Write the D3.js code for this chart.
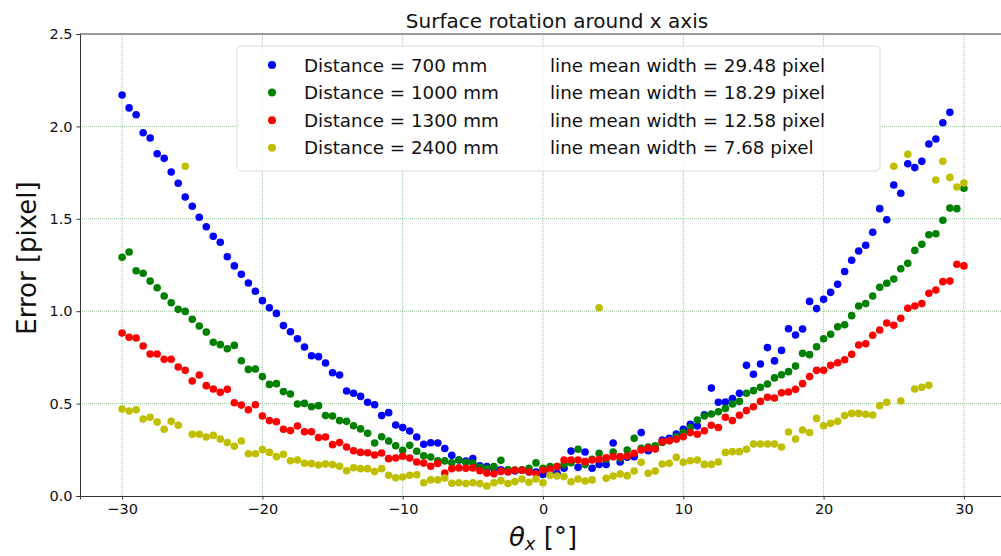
<!DOCTYPE html>
<html>
<head>
<meta charset="utf-8">
<script src="https://cdn.jsdelivr.net/npm/d3@7"></script>
<style>
  body { margin: 0; background: #fff; }
  svg { display: block; font-family: "DejaVu Sans", sans-serif; }
</style>
</head>
<body>
<svg id="chart"></svg>
<script>
// theta_x from -30 to 30 in 0.5 degree steps
const thetaX = d3.range(121).map(i => -30 + i * 0.5);

const err700 = [
  2.17, 2.10, 2.063, 1.966, 1.937, 1.852, 1.827, 1.753, 1.692, 1.618,
  1.568, 1.508, 1.457, 1.405, 1.373, 1.295, 1.245, 1.2, 1.153, 1.108,
  1.057, 1.019, 0.988, 0.922, 0.889, 0.851, 0.806, 0.759, 0.754, 0.72,
  0.667, 0.655, 0.568, 0.556, 0.539, 0.507, 0.494, 0.435, 0.451, 0.384,
  0.37, 0.352, 0.319, 0.28, 0.288, 0.287, 0.257, 0.22, 0.195, 0.189,
  0.203, 0.163, 0.16, 0.15, 0.142, 0.14, 0.135, 0.14, 0.13, 0.13,
  0.117, 0.135, 0.123, 0.15, 0.243, 0.155, 0.238, 0.15, 0.171, 0.171,
  0.287, 0.184, 0.21, 0.213, 0.343, 0.245, 0.26, 0.303, 0.312, 0.335,
  0.361, 0.388, 0.379, 0.44, 0.584, 0.507, 0.509, 0.527, 0.556, 0.707,
  0.659, 0.714, 0.803, 0.731, 0.788, 0.905, 0.871, 0.904, 1.053, 1.014,
  1.064, 1.102, 1.146, 1.215, 1.276, 1.326, 1.357, 1.427, 1.555, 1.495,
  1.683, 1.638, 1.798, 1.777, 1.811, 1.905, 1.932, 2.02, 2.076, null,
  null
];

const err1000 = [
  1.292, 1.32, 1.219, 1.205, 1.163, 1.127, 1.082, 1.046, 1.01, 0.999,
  0.956, 0.92, 0.887, 0.832, 0.819, 0.797, 0.815, 0.732, 0.685, 0.687,
  0.646, 0.604, 0.608, 0.565, 0.552, 0.498, 0.501, 0.483, 0.489, 0.435,
  0.433, 0.408, 0.404, 0.38, 0.363, 0.339, 0.287, 0.321, 0.298, 0.272,
  0.247, 0.274, 0.242, 0.218, 0.211, 0.19, 0.19, 0.18, 0.195, 0.182,
  0.178, 0.155, 0.15, 0.16, 0.193, 0.142, 0.14, 0.14, 0.15, 0.179,
  0.15, 0.159, 0.16, 0.17, 0.18, 0.253, 0.17, 0.198, 0.231, 0.2,
  0.238, 0.205, 0.249, 0.312, 0.258, 0.265, 0.271, 0.29, 0.3, 0.32,
  0.343, 0.37, 0.411, 0.433, 0.444, 0.456, 0.474, 0.498, 0.512, 0.556,
  0.57, 0.588, 0.606, 0.639, 0.656, 0.673, 0.703, 0.772, 0.765, 0.808,
  0.851, 0.875, 0.916, 0.927, 0.976, 1.028, 1.041, 1.082, 1.129, 1.151,
  1.174, 1.23, 1.259, 1.329, 1.362, 1.414, 1.419, 1.492, 1.558, 1.555,
  1.665
];

const err1300 = [
  0.882, 0.859, 0.855, 0.812, 0.768, 0.768, 0.74, 0.74, 0.698, 0.68,
  0.622, 0.655, 0.597, 0.579, 0.561, 0.577, 0.505, 0.492, 0.467, 0.494,
  0.433, 0.408, 0.402, 0.361, 0.354, 0.379, 0.348, 0.348, 0.316, 0.319,
  0.278, 0.289, 0.265, 0.245, 0.236, 0.234, 0.222, 0.233, 0.202, 0.206,
  0.215, 0.206, 0.184, 0.178, 0.161, 0.176, 0.124, 0.148, 0.152, 0.15,
  0.152, 0.137, 0.124, 0.12, 0.133, 0.13, 0.139, 0.139, 0.131, 0.12,
  0.141, 0.144, 0.159, 0.195, 0.195, 0.195, 0.186, 0.195, 0.198, 0.207,
  0.213, 0.213, 0.216, 0.231, 0.249, 0.258, 0.254, 0.294, 0.299, 0.307,
  0.321, 0.343, 0.334, 0.353, 0.383, 0.371, 0.426, 0.408, 0.437, 0.462,
  0.483, 0.512, 0.534, 0.53, 0.559, 0.563, 0.577, 0.608, 0.646, 0.68,
  0.68, 0.707, 0.721, 0.737, 0.767, 0.817, 0.824, 0.87, 0.898, 0.936,
  0.924, 0.962, 1.016, 1.028, 1.041, 1.097, 1.115, 1.16, 1.163, 1.254,
  1.245
];

const err2400 = [
  0.471, 0.46, 0.467, 0.417, 0.426, 0.4, 0.361, 0.404, 0.383, 1.784,
  0.334, 0.334, 0.319, 0.328, 0.308, 0.289, 0.269, 0.298, 0.229, 0.229,
  0.251, 0.236, 0.213, 0.225, 0.191, 0.195, 0.177, 0.175, 0.168, 0.173,
  0.17, 0.161, 0.137, 0.153, 0.148, 0.148, 0.132, 0.148, 0.112, 0.099,
  0.103, 0.112, 0.115, 0.072, 0.087, 0.087, 0.097, 0.069, 0.072, 0.067,
  0.072, 0.067, 0.054, 0.072, 0.083, 0.067, 0.078, 0.092, 0.074, 0.092,
  0.072, 0.112, 0.108, 0.105, 0.077, 0.092, 0.081, 0.087, 1.019, 0.096,
  0.108, 0.119, 0.11, 0.135, 0.182, 0.123, 0.135, 0.173, 0.177, 0.209,
  0.182, 0.191, 0.195, 0.171, 0.171, 0.184, 0.236, 0.24, 0.24, 0.253,
  0.281, 0.281, 0.281, 0.281, 0.265, 0.346, 0.308, 0.357, 0.343, 0.42,
  0.38, 0.393, 0.404, 0.435, 0.447, 0.447, 0.442, 0.438, 0.489, 0.507,
  1.784, 0.514, 1.849, 0.579, 0.588, 0.599, 1.71, 1.811, 1.724, 1.672,
  1.694
];

const distLabels = ['Distance = 700 mm', 'Distance = 1000 mm', 'Distance = 1300 mm', 'Distance = 2400 mm'];
const widthLabels = ['line mean width = 29.48 pixel', 'line mean width = 18.29 pixel',
                     'line mean width = 12.58 pixel', 'line mean width = 7.68 pixel'];
const colors = ['#0000ff', '#008000', '#ff0000', '#bfbf00'];
const xTicks = [-30, -20, -10, 0, 10, 20, 30];
const yTicks = [0, 0.5, 1.0, 1.5, 2.0, 2.5];

const width = 1001, height = 556;
const margin = {top: 34, right: -5, bottom: 60, left: 80};

const svg = d3.select('#chart').attr('width', width).attr('height', height);

const x = d3.scaleLinear().domain([-33, 33]).range([margin.left, width - margin.right]);
const y = d3.scaleLinear().domain([0, 2.5]).range([height - margin.bottom, margin.top]);

// grid
const grid = svg.append('g')
    .attr('stroke', '#008000')
    .attr('stroke-width', 0.6)
    .attr('stroke-dasharray', '1,1')
    .attr('opacity', 0.7);
grid.selectAll('.gx').data(xTicks).enter().append('line')
    .attr('x1', d => x(d)).attr('x2', d => x(d))
    .attr('y1', y(0)).attr('y2', y(2.5));
grid.selectAll('.gy').data(yTicks.slice(1, -1)).enter().append('line')
    .attr('x1', x(-33)).attr('x2', x(33))
    .attr('y1', d => y(d)).attr('y2', d => y(d));

// points
const series = [err700, err1000, err1300, err2400];
series.forEach((vals, si) => {
  const pts = thetaX.map((t, i) => ({t, v: vals[i]})).filter(d => d.v != null);
  svg.append('g').selectAll('circle').data(pts).enter().append('circle')
      .attr('cx', d => x(d.t))
      .attr('cy', d => y(d.v))
      .attr('r', 3.8)
      .attr('fill', colors[si]);
});

// axes
const xAxis = d3.axisBottom(x).tickValues(xTicks).tickSize(3.5).tickPadding(4)
    .tickFormat(d => d < 0 ? '\u2212' + Math.abs(d) : d);
const yAxis = d3.axisLeft(y).tickValues(yTicks).tickSize(3.5).tickPadding(4)
    .tickFormat(d3.format('.1f'));

const gx = svg.append('g').attr('transform', `translate(0,${y(0)})`).call(xAxis);
const gy = svg.append('g').attr('transform', `translate(${x(-33)},0)`).call(yAxis);
[gx, gy].forEach(g => {
  g.select('.domain').attr('stroke', '#333');
  g.selectAll('.tick line').attr('stroke', '#333');
  g.selectAll('.tick text').attr('font-size', 14.5).attr('fill', '#111')
      .attr('font-family', '"DejaVu Sans", sans-serif');
});
// top spine
svg.append('line')
    .attr('x1', x(-33)).attr('x2', x(33))
    .attr('y1', y(2.5)).attr('y2', y(2.5))
    .attr('stroke', '#333');

// title and labels
svg.append('text')
    .attr('x', 557).attr('y', 28)
    .attr('text-anchor', 'middle')
    .attr('font-size', 20)
    .attr('fill', '#111')
    .text('Surface rotation around x axis');

svg.append('text')
    .attr('transform', 'translate(36,258) rotate(-90)')
    .attr('text-anchor', 'middle')
    .attr('font-size', 26)
    .attr('fill', '#111')
    .text('Error [pixel]');

const xl = svg.append('text')
    .attr('x', 543).attr('y', 546)
    .attr('text-anchor', 'middle')
    .attr('font-size', 26)
    .attr('fill', '#111');
xl.append('tspan').attr('font-style', 'italic').text('θ');
xl.append('tspan').attr('font-style', 'italic').attr('font-size', 18).attr('dy', 4).text('x');
xl.append('tspan').attr('dy', -4).text(' [°]');

// legend
const legend = svg.append('g');
legend.append('rect')
    .attr('x', 237).attr('y', 46)
    .attr('width', 643).attr('height', 125)
    .attr('rx', 4)
    .attr('fill', '#fff').attr('fill-opacity', 0.85)
    .attr('stroke', '#ddd');
const rows = legend.selectAll('.row').data(distLabels).enter().append('g')
    .attr('transform', (d, i) => `translate(0,${65 + i * 27.6})`);
rows.append('circle').attr('cx', 272).attr('cy', 0).attr('r', 4)
    .attr('fill', (d, i) => colors[i]);
rows.append('text').attr('x', 304).attr('y', 6.5)
    .attr('font-size', 18.3).attr('fill', '#111')
    .text(d => d);
rows.append('text').attr('x', 550).attr('y', 6.5)
    .attr('font-size', 18.3).attr('fill', '#111')
    .text((d, i) => widthLabels[i]);
</script>
</body>
</html>
